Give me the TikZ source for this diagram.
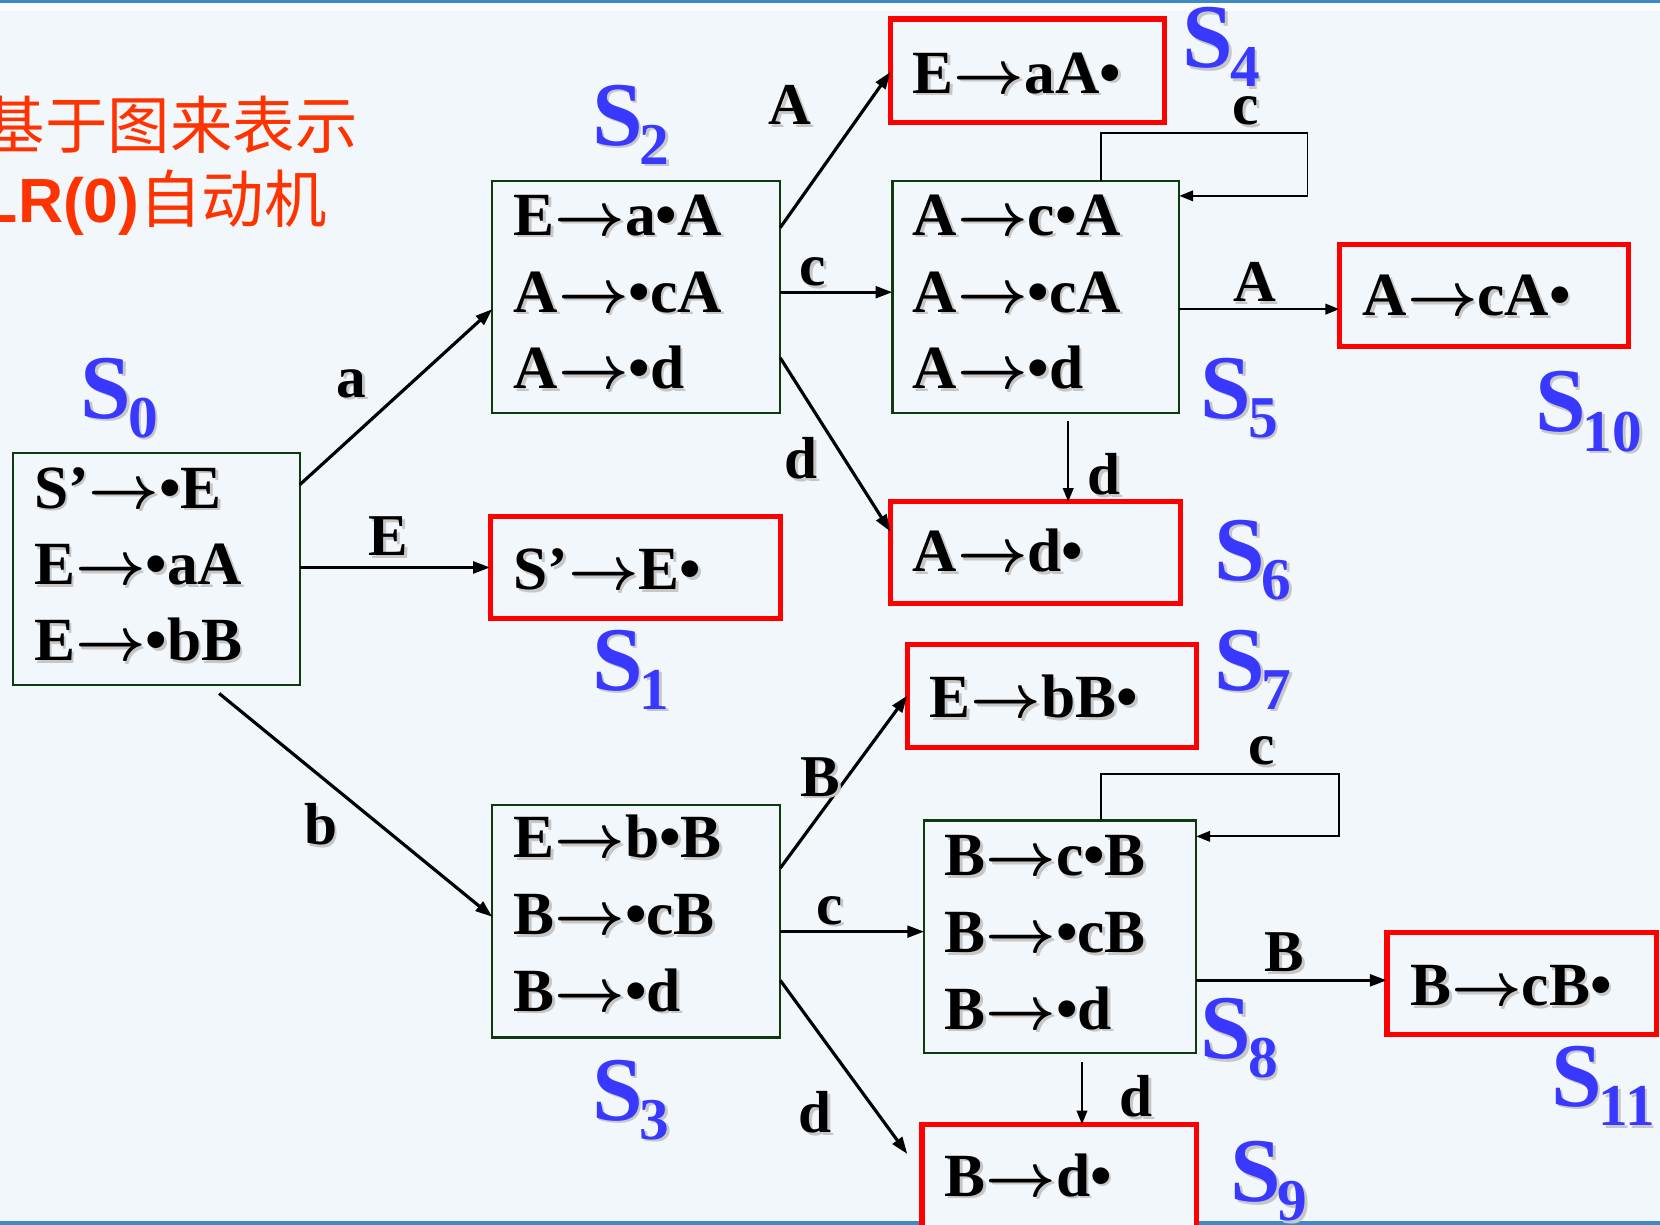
\documentclass[tikz,border=0pt]{standalone}
\usepackage{fix-cm}
\usepackage{fontspec}
\setmainfont{Liberation Serif}
\newfontfamily\cjk{Noto Sans CJK SC}
\newfontfamily\arialf{Liberation Sans}
\usetikzlibrary{arrows.meta,calc}
\definecolor{bgc}{HTML}{F2F7FB}
\definecolor{bar}{HTML}{3E8AC5}
\definecolor{titlered}{HTML}{FF3300}
\definecolor{sblue}{HTML}{3838FF}
\definecolor{boxgreen}{HTML}{0E3A0E}
\definecolor{boxred}{HTML}{FF0000}
\newcommand{\tto}{{\boldmath$\rightarrow$}}
\newcommand{\shd}[1]{\leavevmode\rlap{\kern2.5pt\raisebox{-2.5pt}{\color{black!22}#1}}#1}
\newcommand{\SL}[1]{\shd{S\kern-3pt\raisebox{-18pt}{\fontsize{56}{56}\selectfont #1}}}
\begin{document}
\begin{tikzpicture}[x=1pt,y=-1pt,
  item/.style={font=\bfseries\fontsize{58}{70}\selectfont, inner sep=0pt, anchor=base west},
  elab/.style={font=\bfseries\fontsize{56}{60}\selectfont, inner sep=0pt, anchor=base},
  slab/.style={font=\bfseries\fontsize{86}{90}\selectfont, text=sblue, inner sep=0pt, anchor=base west},
  kbox/.style={draw=boxgreen, line width=2pt, fill=bgc, outer sep=0pt, inner sep=0pt, anchor=north west},
  fbox/.style={draw=boxred, line width=5pt, fill=bgc, outer sep=0pt, inner sep=0pt, anchor=north west},
  tr/.style={line width=3pt, -{Triangle[length=16pt,width=11pt]}},
  lp/.style={line width=1.8pt, -{Triangle[length=13pt,width=10pt]}},
  ]
\useasboundingbox (0,0) rectangle (1568,1157);
\fill[bgc] (0,0) rectangle (1568,1157);
\fill[bar] (0,0) rectangle (1568,3);
\fill[white!60!bgc] (0,3) rectangle (1568,10);
\fill[bar] (0,1153) rectangle (1568,1157);

% title
\node[inner sep=0pt, anchor=base east, text=titlered, font=\cjk\fontsize{59}{60}\selectfont] (t1) at (338,140) {基于图来表示};
\node[inner sep=0pt, anchor=base east, text=titlered, font=\fontsize{59}{60}\selectfont] (t2) at (309,210) {{\arialf\bfseries LR(0)}{\cjk 自动机}};

% boxes
\node[kbox, minimum width=271, minimum height=219] (s0) at (12,428) {};
\node[kbox, minimum width=272, minimum height=219] (s2) at (465,171) {};
\node[fbox, minimum width=274, minimum height=96] (s1) at (463,488) {};
\node[kbox, minimum width=272, minimum height=220] (s3) at (465,760) {};
\node[fbox, minimum width=259, minimum height=98] (s4) at (841,18) {};
\node[kbox, minimum width=271, minimum height=219] (s5) at (843,171) {};
\node[fbox, minimum width=273, minimum height=96] (s10) at (1265,231) {};
\node[fbox, minimum width=274, minimum height=96] (s6) at (841,474) {};
\node[fbox, minimum width=273, minimum height=97] (s7) at (857,609) {};
\node[kbox, minimum width=257, minimum height=220] (s8) at (873,775) {};
\node[fbox, minimum width=255, minimum height=96] (s11) at (1310,881) {};
\node[fbox, minimum width=259, minimum height=98] (s9) at (871,1062) {};

% items
\node[item] (i0a) at (32,480) {\shd{S’\tto•E}};
\node[item] (i0b) at (32,552) {\shd{E\tto•aA}};
\node[item] (i0c) at (32,624) {\shd{E\tto•bB}};
\node[item] (i2a) at (485,222) {\shd{E\tto a•A}};
\node[item] (i2b) at (485,295) {\shd{A\tto•cA}};
\node[item] (i2c) at (485,367) {\shd{A\tto•d}};
\node[item] (i1a) at (485,557) {\shd{S’\tto E•}};
\node[item] (i3a) at (485,810) {\shd{E\tto b•B}};
\node[item] (i3b) at (485,883) {\shd{B\tto•cB}};
\node[item] (i3c) at (485,955) {\shd{B\tto•d}};
\node[item] (i4a) at (862,88) {\shd{E\tto aA•}};
\node[item] (i5a) at (862,222) {\shd{A\tto c•A}};
\node[item] (i5b) at (862,295) {\shd{A\tto•cA}};
\node[item] (i5c) at (862,367) {\shd{A\tto•d}};
\node[item] (i10a) at (1287,298) {\shd{A\tto cA•}};
\node[item] (i6a) at (862,540) {\shd{A\tto d•}};
\node[item] (i7a) at (878,678) {\shd{E\tto bB•}};
\node[item] (i8a) at (892,827) {\shd{B\tto c•B}};
\node[item] (i8b) at (892,900) {\shd{B\tto•cB}};
\node[item] (i8c) at (892,972) {\shd{B\tto•d}};
\node[item] (i11a) at (1332,950) {\shd{B\tto cB•}};
\node[item] (i9a) at (892,1130) {\shd{B\tto d•}};

% state labels
\node[slab] (l0) at (76,395) {\SL{0}};
\node[slab] (l2) at (559,137) {\SL{2}};
\node[slab] (l1) at (559,652) {\SL{1}};
\node[slab] (l3) at (559,1058) {\SL{3}};
\node[slab] (l4) at (1117,64) {\SL{4}};
\node[slab] (l5) at (1134,395) {\SL{5}};
\node[slab] (l10) at (1450,408) {\SL{10}};
\node[slab] (l6) at (1147,548) {\SL{6}};
\node[slab] (l7) at (1147,652) {\SL{7}};
\node[slab] (l8) at (1134,1000) {\SL{8}};
\node[slab] (l11) at (1465,1045) {\SL{11}};
\node[slab] (l9) at (1162,1135) {\SL{9}};

% transitions
\draw[tr] ($(s0.north east)+(0,30)$) -- ($(s2.north west)+(0,121)$);
\draw[tr] (s0.east |- s1.west) -- (s1.west);
\coordinate (b0) at ($(s0.south west)+(195,8)$);
\draw[tr] (b0) -- ($(s3.north west)+(0,106)$);
\draw[tr] ($(s2.north east)+(0,44)$) -- ($(s4.south west)+(0,-48)$);
\draw[tr] ($(s2.north east)+(0,105)$) -- ($(s5.north west)+(0,105)$);
\draw[tr] ($(s2.north east)+(0,167)$) -- ($(s6.north west)+(0,28)$);
\draw[lp] ($(s5.north east)+(0,121)$) -- ($(s10.north west)+(0,61)$);
\coordinate (d5) at ($(s5.south west)+(166,8)$);
\draw[lp] (d5) -- (d5 |- s6.north);
\draw[lp] ($(s5.north west)+(197,0)$) -- ++(0,-45) -- ++(195,0) -- ++(0,59) -- ($(s5.north east)+(0,14)$);
\draw[tr] ($(s3.north east)+(0,60)$) -- ($(s7.south west)+(0,-49)$);
\draw[tr] ($(s3.north east)+(0,120)$) -- ($(s8.north west)+(0,105)$);
\coordinate (e9) at ($(s9.north west)+(-14,28)$);
\draw[tr] ($(s3.north east)+(0,166)$) -- (e9);
\draw[tr] ($(s8.north east)+(0,151)$) -- ($(s11.north west)+(0,45)$);
\coordinate (d8) at ($(s8.south west)+(149,8)$);
\draw[lp] (d8) -- (d8 |- s9.north);
\draw[lp] ($(s8.north west)+(167,0)$) -- ++(0,-44) -- ++(225,0) -- ++(0,59) -- ($(s8.north east)+(0,15)$);

% edge labels
\node[elab] (ea) at (332,375) {\shd{a}};
\node[elab] (eE) at (367,525) {\shd{E}};
\node[elab] (eb) at (303,798) {\shd{b}};
\node[elab] (eA1) at (746,118) {\shd{A}};
\node[elab] (ec1) at (768,270) {\shd{c}};
\node[elab] (ed1) at (757,452) {\shd{d}};
\node[elab] (ec5) at (1177,118) {\shd{c}};
\node[elab] (eA5) at (1185,285) {\shd{A}};
\node[elab] (ed5) at (1043,467) {\shd{d}};
\node[elab] (eB3) at (775,752) {\shd{B}};
\node[elab] (ec3) at (784,873) {\shd{c}};
\node[elab] (ed3) at (770,1070) {\shd{d}};
\node[elab] (ec8) at (1192,722) {\shd{c}};
\node[elab] (eB8) at (1213,918) {\shd{B}};
\node[elab] (ed8) at (1073,1055) {\shd{d}};
\end{tikzpicture}
\end{document}
